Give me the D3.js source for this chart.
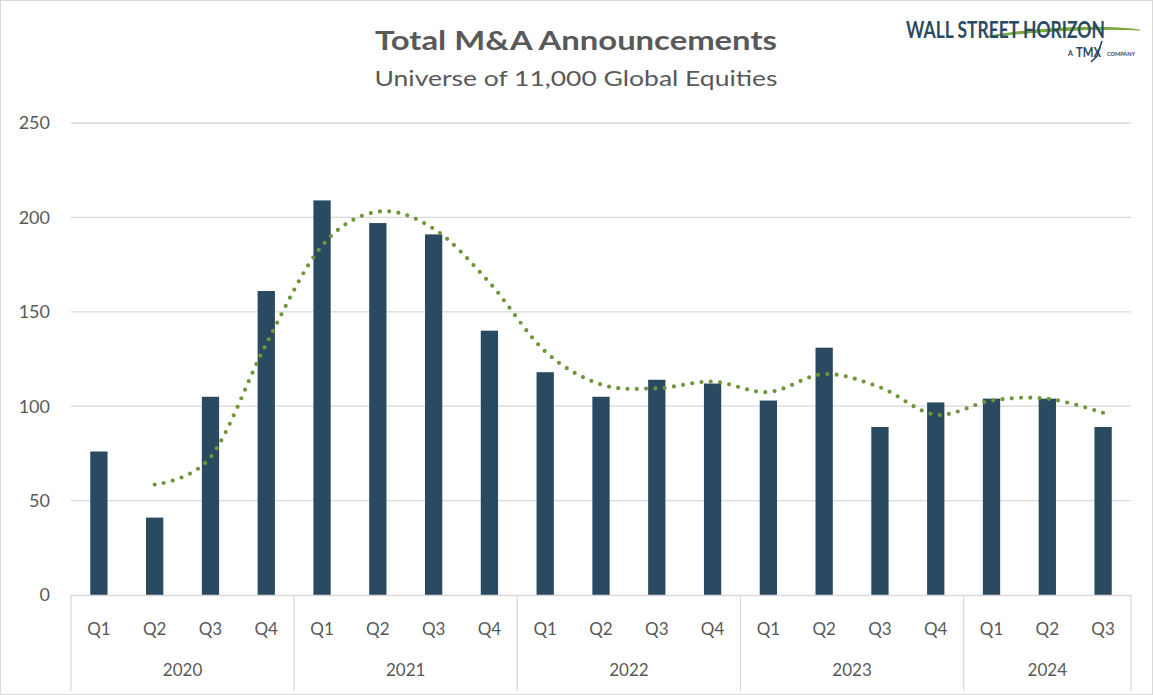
<!DOCTYPE html>
<html><head><meta charset="utf-8">
<script src="https://cdn.jsdelivr.net/npm/d3@7"></script>
<style>
html,body{margin:0;padding:0;background:#fff;}
svg{display:block;}
text{font-family:Lato,"Open Sans",sans-serif;}
</style></head>
<body><svg id="c" width="1153" height="695"></svg>
<script>
const years = ["2020","2021","2022","2023","2024"];
const quartersPerYear = [4,4,4,4,3];
const quarters = ["Q1","Q2","Q3","Q4","Q1","Q2","Q3","Q4","Q1","Q2","Q3","Q4","Q1","Q2","Q3","Q4","Q1","Q2","Q3"];
const announcements = [76,41,105,161,209,197,191,140,118,105,114,112,103,131,89,102,104,104,89];
const movingAverage = [null,58.5,73,133,185,203,194,165.5,129,111.5,109.5,113,107.5,117,110,95.5,103,104,96.5];
const yTicks = [0,50,100,150,200,250];

const svg = d3.select("#c");
const W = 1153, H = 695;
const L = 71, R = 1131, T = 123, B = 595;

svg.append("rect").attr("x",0.5).attr("y",0.5).attr("width",W-1).attr("height",H-1)
  .attr("fill","#fff").attr("stroke","#d9d9d9").attr("stroke-width",1);

const x = d3.scaleBand().domain(d3.range(quarters.length)).range([L,R]).padding(0);
const y = d3.scaleLinear().domain([0,250]).range([B,T]);

// gridlines
svg.append("g").selectAll("line").data(yTicks.filter(d=>d>0)).join("line")
  .attr("x1",L).attr("x2",R).attr("y1",d=>y(d)).attr("y2",d=>y(d))
  .attr("stroke","#d9d9d9").attr("stroke-width",1.3);

// y labels
svg.append("g").selectAll("text").data(yTicks).join("text")
  .attr("x",50).attr("y",d=>y(d)).attr("dy","0.35em").attr("text-anchor","end")
  .attr("fill","#595959").attr("font-size",18).text(d=>d);

// bars
const bw = x.bandwidth()*0.31;
svg.append("g").selectAll("rect").data(announcements).join("rect")
  .attr("x",(d,i)=>x(i)+x.bandwidth()/2-bw/2).attr("width",bw)
  .attr("y",d=>y(d)).attr("height",d=>B-y(d)).attr("fill","#2a4a62");

// moving average line
const line = d3.line().defined(d=>d!=null)
  .x((d,i)=>x(i)+x.bandwidth()/2).y(d=>y(d)).curve(d3.curveCardinal.tension(0));
svg.append("path").datum(movingAverage).attr("d",line).attr("fill","none")
  .attr("stroke","#6f963a").attr("stroke-width",4.2).attr("stroke-linecap","round")
  .attr("stroke-dasharray","0 9.3");

// category axis
svg.append("line").attr("x1",L).attr("x2",R).attr("y1",B+0.5).attr("y2",B+0.5)
  .attr("stroke","#d9d9d9").attr("stroke-width",1.3);
svg.append("g").selectAll("text").data(quarters).join("text")
  .attr("x",(d,i)=>x(i)+x.bandwidth()/2).attr("y",629).attr("dy","0.35em")
  .attr("text-anchor","middle").attr("fill","#595959").attr("font-size",17).text(d=>d);

const starts = [0];
quartersPerYear.forEach(n=>starts.push(starts[starts.length-1]+n));
const sepX = starts.map(s => s<quarters.length ? x(s) : R);
svg.append("g").selectAll("line").data(sepX).join("line")
  .attr("x1",d=>d).attr("x2",d=>d).attr("y1",B).attr("y2",H-4)
  .attr("stroke","#d9d9d9").attr("stroke-width",1.3);
svg.append("g").selectAll("text").data(years).join("text")
  .attr("x",(d,i)=>(sepX[i]+sepX[i+1])/2).attr("y",670).attr("dy","0.35em")
  .attr("text-anchor","middle").attr("fill","#595959").attr("font-size",17).text(d=>d);

// titles
svg.append("text").attr("x",576).attr("y",50).attr("text-anchor","middle")
  .attr("fill","#595959").attr("font-size",27).attr("font-weight","bold")
  .attr("textLength",402).attr("lengthAdjust","spacingAndGlyphs").text("Total M&A Announcements");
svg.append("text").attr("x",576).attr("y",86).attr("text-anchor","middle")
  .attr("fill","#595959").attr("font-size",21)
  .attr("textLength",403).attr("lengthAdjust","spacingAndGlyphs").text("Universe of 11,000 Global Equities");

// logo
const lg = svg.append("g");
lg.append("path").attr("d","M985,37 C1040,27 1100,25 1140,30 C1100,28 1040,31 985,37 Z")
  .attr("fill","#7aa83a").attr("stroke","#7aa83a").attr("stroke-width",1.2);
const lt = lg.append("text").attr("fill","#2a4a62")
  .attr("font-family","'DejaVu Sans',sans-serif").attr("font-weight","bold")
  .attr("font-size",23).text("WALL STREET HORIZON");
const nat = lt.node().getComputedTextLength();
lt.attr("transform",`translate(906,38) scale(${199/nat},1)`);
lg.append("text").attr("x",1068).attr("y",56).attr("fill","#2a4a62")
  .attr("font-family","'DejaVu Sans',sans-serif").attr("font-size",7).attr("font-weight","bold").text("A");
const tmx = lg.append("text").attr("fill","#2a4a62")
  .attr("font-family","'DejaVu Sans',sans-serif").attr("font-size",13).attr("font-weight","bold").text("TMX");
tmx.attr("transform",`translate(1076,57) scale(${25/tmx.node().getComputedTextLength()},1)`);
lg.append("path").attr("d","M1102,41 L1097,56 L1091,62").attr("fill","none")
  .attr("stroke","#2a4a62").attr("stroke-width",1.6);
lg.append("text").attr("x",1107).attr("y",56).attr("fill","#2a4a62")
  .attr("font-family","'DejaVu Sans',sans-serif").attr("font-size",5.5).attr("font-weight","bold").text("COMPANY");
</script></body></html>
